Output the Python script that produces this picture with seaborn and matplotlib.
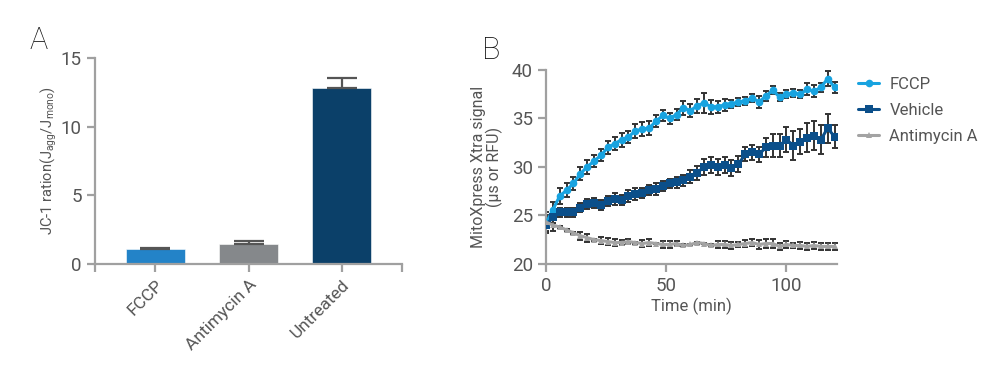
import numpy as np
import pandas as pd
import matplotlib
matplotlib.use("Agg")
import matplotlib.pyplot as plt
import seaborn as sns

## Data - panel A
treatments = ["FCCP", "Antimycin A", "Untreated"]
jc1_ratio = [1.12, 1.42, 12.85]
jc1_err = [0.05, 0.23, 0.68]
bar_colors = ["#2383C8", "#85888B", "#0B4069"]

## Data - panel B
time_min = [0, 2.9, 5.7, 8.6, 11.4, 14.3, 17.1, 20, 22.9, 25.7, 28.6, 31.4, 34.3,
            37.1, 40, 42.9, 45.7, 48.6, 51.4, 54.3, 57.1, 60, 62.9, 65.7, 68.6,
            71.4, 74.3, 77.1, 80, 82.9, 85.7, 88.6, 91.4, 94.3, 97.1, 100, 102.9,
            105.7, 108.6, 111.4, 114.3, 117.1, 120]
fccp = [24.2, 25.6, 27.0, 27.6, 28.3, 29.3, 30.0, 30.6, 31.2, 32.0, 32.4, 32.8, 33.1,
        33.7, 33.9, 34.0, 34.7, 35.3, 35.0, 35.4, 36.1, 35.8, 36.3, 36.6, 36.2,
        36.2, 36.4, 36.5, 36.7, 36.8, 37.1, 36.7, 37.3, 37.9, 37.2, 37.5, 37.6,
        37.5, 38.0, 37.8, 38.2, 39.1, 38.2]
fccp_err = [0.8, 0.8, 0.8, 0.7, 0.7, 0.7, 0.7, 0.6, 0.6, 0.7, 0.7, 0.7, 0.6,
            0.7, 0.7, 0.7, 0.6, 0.6, 0.6, 0.6, 0.7, 0.7, 0.7, 1.0, 0.7,
            0.6, 0.6, 0.4, 0.4, 0.4, 0.4, 0.6, 0.5, 0.4, 0.4, 0.4, 0.4,
            0.4, 0.6, 0.6, 0.5, 0.8, 0.6]
vehicle = [24.0, 24.8, 25.3, 25.3, 25.3, 25.8, 26.2, 26.3, 26.1, 26.5, 26.7, 26.6, 27.0,
           27.2, 27.3, 27.6, 27.7, 28.0, 28.3, 28.4, 28.6, 29.0, 29.4, 30.0, 30.2,
           30.0, 30.2, 29.9, 30.3, 31.3, 31.5, 31.3, 32.0, 32.2, 32.2, 32.8, 32.2,
           32.6, 33.0, 33.2, 32.8, 34.0, 33.1]
vehicle_err = [0.8, 0.6, 0.5, 0.5, 0.5, 0.5, 0.5, 0.5, 0.5, 0.5, 0.6, 0.5, 0.6,
               0.6, 0.5, 0.5, 0.6, 0.5, 0.5, 0.6, 0.6, 0.7, 0.7, 0.8, 0.8,
               0.8, 0.8, 0.8, 0.8, 0.7, 0.8, 0.8, 1.0, 1.2, 1.2, 1.3, 1.5,
               1.3, 1.5, 1.5, 1.5, 1.5, 1.2]
antimycin = [24.3, 24.0, 23.8, 23.5, 23.2, 22.9, 22.7, 22.5, 22.4, 22.3, 22.2, 22.2, 22.3,
             22.2, 22.1, 22.2, 22.1, 22.0, 22.0, 22.1, 21.9, 22.0, 22.2, 22.1, 21.9,
             22.0, 22.0, 21.9, 22.0, 22.1, 22.2, 22.0, 22.1, 22.1, 21.8, 22.0, 21.9,
             21.9, 21.8, 21.9, 21.8, 21.8, 21.8]
antimycin_err = [1.0, 0.6, 0.1, 0.1, 0.1, 0.4, 0.4, 0.1, 0.4, 0.4, 0.4, 0.3, 0.3,
                 0.1, 0.4, 0.4, 0.1, 0.4, 0.4, 0.3, 0.1, 0.1, 0.1, 0.1, 0.1,
                 0.4, 0.4, 0.4, 0.3, 0.4, 0.4, 0.5, 0.5, 0.5, 0.4, 0.4, 0.3,
                 0.4, 0.4, 0.4, 0.4, 0.4, 0.4]

series_names = ["FCCP", "Vehicle", "Antimycin A"]
line_colors = ["#18A3E0", "#0B4F8A", "#A3A3A3"]
line_markers = ["o", "s", "^"]

## Style
sns.set_style("ticks")
plt.rcParams["font.family"] = ["Roboto", "DejaVu Sans"]
spine_col = "#A0A0A0"
text_col = "#555555"
err_col = "#333333"

fig = plt.figure(figsize=(10, 3.66), dpi=100)
axA = fig.add_axes([0.095, 0.279, 0.307, 0.5625])
axB = fig.add_axes([0.546, 0.279, 0.291, 0.530])

## Panel A - bar chart
dfA = pd.DataFrame({"treatment": treatments, "ratio": jc1_ratio})
sns.barplot(data=dfA, x="treatment", y="ratio", hue="treatment", palette=bar_colors,
            saturation=1, width=0.63, legend=False, ax=axA, errorbar=None)
for p in axA.patches:
    p.set_edgecolor("#FFFFFF")
    p.set_linewidth(0.4)
axA.errorbar(range(len(treatments)), jc1_ratio, yerr=[np.zeros(3), jc1_err], fmt="none",
             ecolor="#555555", elinewidth=1.6, capsize=11, capthick=1.6, zorder=1)
axA.set_xlim(-0.65, 2.65)
axA.set_ylim(0, 15)
axA.set_yticks([0, 5, 10, 15])
axA.set_xticks([0, 1, 2])
axA.set_xticks([-0.65, 2.65], minor=True)
axA.set_xticklabels(treatments, rotation=45, ha="right", rotation_mode="anchor")
axA.set_xlabel("")
axA.set_ylabel("JC-1 ration(J$_\\mathregular{agg}$/J$_\\mathregular{mono}$)",
               fontsize=10.5, color=text_col, labelpad=1)

## Panel B - time course
for vals, errs in zip([fccp, vehicle, antimycin], [fccp_err, vehicle_err, antimycin_err]):
    axB.errorbar(time_min, vals, yerr=errs, fmt="none", ecolor=err_col,
                 elinewidth=1.4, capsize=2.5, capthick=1.4, zorder=2)
for name, vals, col, mk in zip(series_names, [fccp, vehicle, antimycin],
                               line_colors, line_markers):
    dfB = pd.DataFrame({"time": time_min, "signal": vals})
    sns.lineplot(data=dfB, x="time", y="signal", color=col, marker=mk,
                 markersize=5.5 if mk != "^" else 5, markeredgewidth=0,
                 linewidth=2.2, label=name, ax=axB, zorder=3)
axB.set_xlim(0, 121)
axB.set_ylim(20, 40)
axB.set_xticks([0, 50, 100])
axB.set_yticks([20, 25, 30, 35, 40])
axB.set_xlabel("Time (min)", fontsize=12, color=text_col, labelpad=2)
axB.set_ylabel("MitoXpress Xtra signal\n(\u03bcs or RFU)", fontsize=11.5,
               color=text_col, labelpad=6, linespacing=1.0)
leg = axB.legend(loc="upper left", bbox_to_anchor=(1.02, 1.04), frameon=False,
                 fontsize=12, handlelength=1.3, labelspacing=0.65, handletextpad=0.6)
for t in leg.get_texts():
    t.set_color(text_col)

## Common axis styling
for ax in (axA, axB):
    sns.despine(ax=ax)
    for s in ("left", "bottom"):
        ax.spines[s].set_color(spine_col)
        ax.spines[s].set_linewidth(1.6)
    ax.tick_params(axis="both", which="both", colors=spine_col, width=1.6, length=6,
                   labelsize=13.5, labelcolor=text_col)
axA.tick_params(axis="x", labelsize=12.5)

fig.text(0.03, 0.865, "A", fontsize=22, fontweight="light", color="#111111")
fig.text(0.482, 0.84, "B", fontsize=22, fontweight="light", color="#111111")

fig.savefig("out.png", dpi=100)
